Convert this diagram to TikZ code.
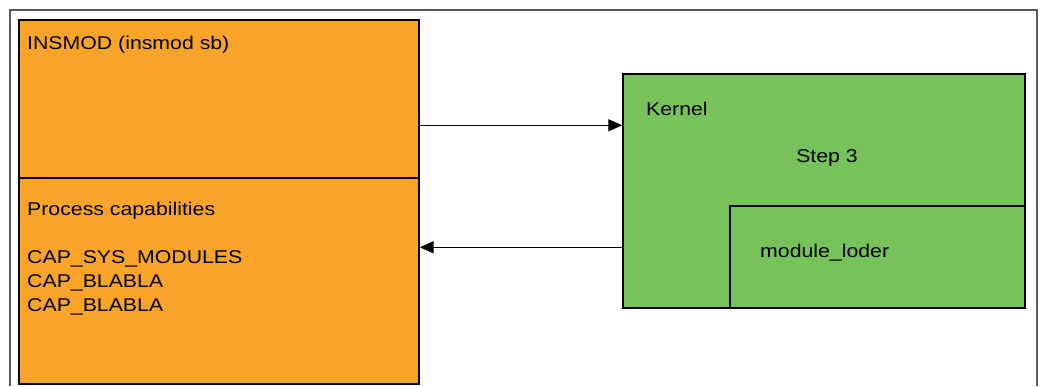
\documentclass[tikz,border=0pt]{standalone}
\usepackage{fontspec}
\setmainfont{Liberation Sans}
\usetikzlibrary{arrows.meta}
\definecolor{orangebox}{HTML}{F7A428}
\definecolor{greenbox}{HTML}{77C25A}
\definecolor{framegray}{HTML}{5A5A5A}
\newcommand{\wide}[1]{\scalebox{1.15}[1]{#1}}
\begin{document}
\begin{tikzpicture}[x=1pt,y=-1pt,
  box/.style={draw=black,line width=1.4pt,inner sep=0pt},
  lbl/.style={anchor=base west,inner sep=0pt,font=\fontsize{18.5}{24}\selectfont,text=black},
  arr/.style={draw=black,line width=1.3pt,-{Triangle[length=14pt,width=12pt]}}]
\useasboundingbox (0,0) rectangle (1041,386);
\fill[white] (0,0) rectangle (1041,386);
% outer frame
\draw[framegray,line width=1.4pt] (10,386) -- (10,10) -- (1037,10) -- (1037,386);
% orange boxes
\node[box,fill=orangebox,minimum width=400pt,minimum height=158pt] (insmodbox) at (219,99) {};
\node[box,fill=orangebox,minimum width=400pt,minimum height=206pt] (capsbox) at (219,281) {};
% green boxes
\node[box,fill=greenbox,minimum width=402pt,minimum height=234pt] (kernel) at (824,191) {};
\node[box,fill=greenbox,minimum width=295pt,minimum height=102pt] (loader) at (877.5,257) {};
% texts
\node[lbl] (t1) at (27,49) {\wide{INSMOD (insmod sb)}};
\node[lbl] (t2) at (27,215) {\wide{Process capabilities}};
\node[lbl] (t3) at (27,263) {\wide{CAP\_SYS\_MODULES}};
\node[lbl] (t4) at (27,287) {\wide{CAP\_BLABLA}};
\node[lbl] (t5) at (27,311) {\wide{CAP\_BLABLA}};
\node[lbl] (t6) at (646,115) {\wide{Kernel}};
\node[lbl,anchor=base] (t7) at (827,162) {\wide{Step 3}};
\node[lbl] (t8) at (760,257) {\wide{module\_loder}};
% arrows
\draw[arr] ([yshift=-52pt]kernel.north west -| insmodbox.east) -- ([yshift=-52pt]kernel.north west);
\draw[arr] ([yshift=-174pt]kernel.north west) -- ([yshift=-174pt]kernel.north west -| capsbox.east);
\end{tikzpicture}
\end{document}
